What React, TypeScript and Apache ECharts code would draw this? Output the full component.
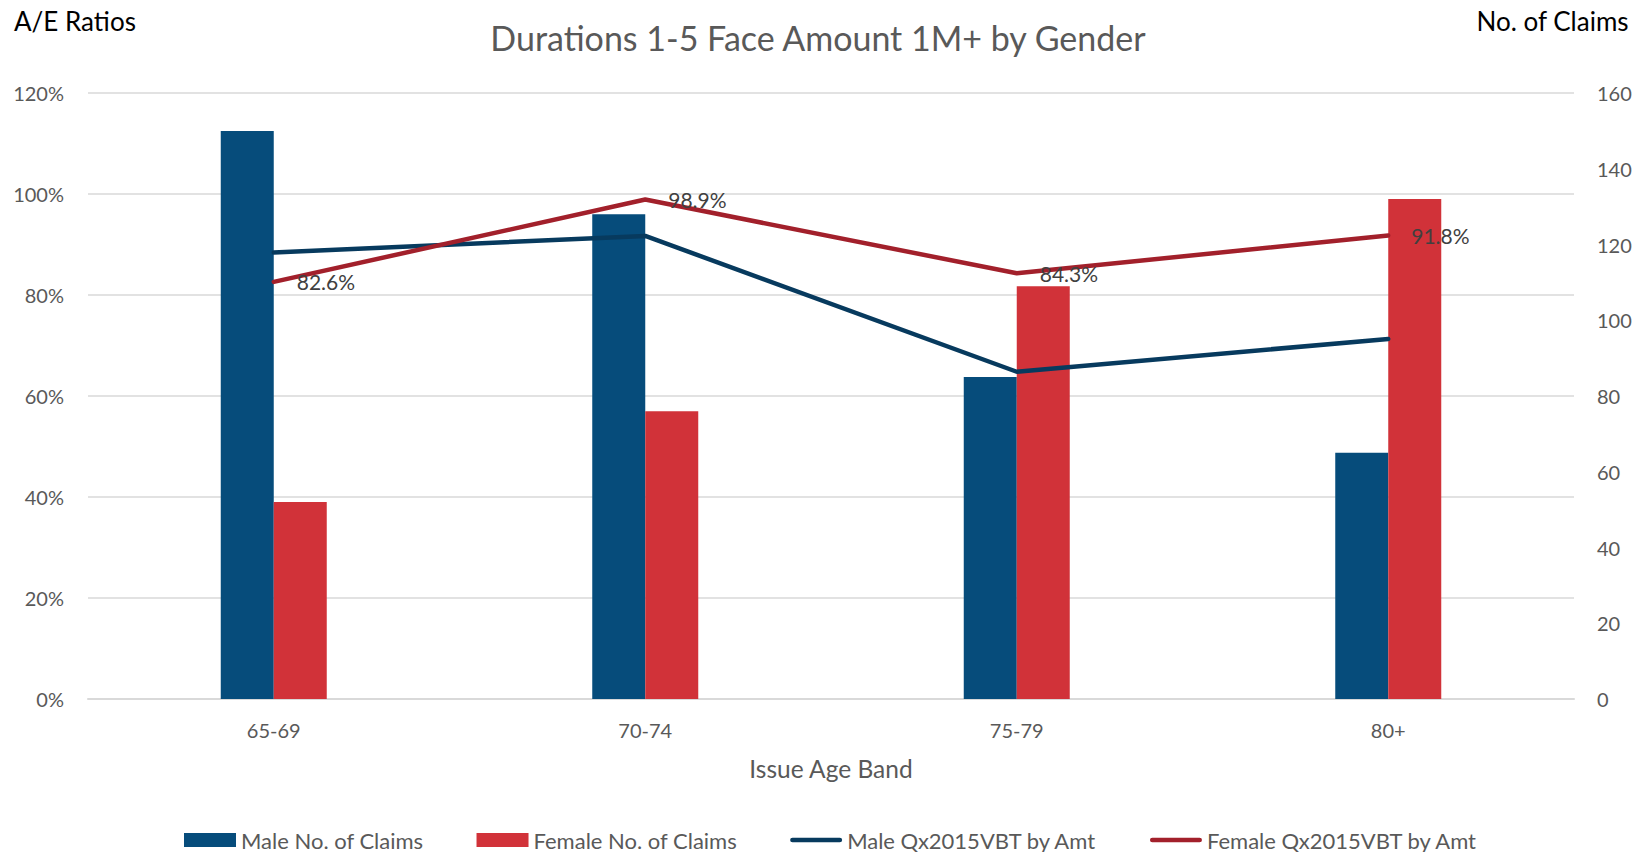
import React, { useEffect, useRef } from "react";
import * as echarts from "echarts";

const categories = ["65-69", "70-74", "75-79", "80+"];
const maleClaims = [150, 128, 85, 65];
const femaleClaims = [52, 76, 109, 132];
const maleAE = [88.4, 91.7, 64.8, 71.3];
const femaleAE = [82.6, 98.9, 84.3, 91.8];
const seriesNames = [
  "Male No. of Claims",
  "Female No. of Claims",
  "Male Qx2015VBT by Amt",
  "Female Qx2015VBT by Amt",
];

const FONT = "Lato, 'Noto Sans', sans-serif";
const lineIcon =
  "path://M2.5,0 H52.5 A2.5,2.5 0 0 1 52.5,5 H2.5 A2.5,2.5 0 0 1 2.5,0 Z";

export default function App() {
  const ref = useRef<HTMLDivElement>(null);
  useEffect(() => {
    if (!ref.current) return;
    const chart = echarts.init(ref.current, undefined, { renderer: "svg" });
    chart.setOption({
      animation: false,
      backgroundColor: "#ffffff",
      textStyle: { fontFamily: FONT },
      title: {
        text: "Durations 1-5 Face Amount 1M+ by Gender",
        left: "center",
        top: 15,
        textStyle: { fontFamily: FONT, fontSize: 34, fontWeight: "normal", color: "#595959" },
      },
      graphic: [
        {
          type: "text",
          left: 14,
          top: 8,
          style: { text: "A/E Ratios", fontFamily: FONT, fontSize: 26, fill: "#000000" },
        },
        {
          type: "text",
          right: 7,
          top: 8,
          style: { text: "No. of Claims", fontFamily: FONT, fontSize: 26, fill: "#000000" },
        },
      ],
      legend: {
        left: 184,
        top: 829,
        padding: 0,
        itemWidth: 52,
        itemHeight: 14,
        itemGap: 53,
        textStyle: { fontFamily: FONT, fontSize: 22, lineHeight: 22, color: "#595959" },
        data: [
          { name: seriesNames[0], icon: "rect" },
          { name: seriesNames[1], icon: "rect" },
          { name: seriesNames[2], icon: lineIcon },
          { name: seriesNames[3], icon: lineIcon },
        ],
      },
      grid: { left: 88, right: 62, top: 93, bottom: 153, containLabel: false },
      xAxis: {
        type: "category",
        data: categories,
        boundaryGap: true,
        axisTick: { show: false },
        axisLine: { lineStyle: { color: "#d9d9d9", width: 2 } },
        axisLabel: { color: "#595959", fontSize: 20, margin: 21, fontFamily: FONT },
        name: "Issue Age Band",
        nameLocation: "middle",
        nameGap: 57,
        nameTextStyle: { color: "#595959", fontSize: 24.5, fontFamily: FONT },
      },
      yAxis: [
        {
          type: "value",
          min: 0,
          max: 120,
          interval: 20,
          axisLabel: { formatter: "{value}%", color: "#595959", fontSize: 20, margin: 24, fontFamily: FONT },
          axisLine: { show: false },
          axisTick: { show: false },
          splitLine: { lineStyle: { color: "#d9d9d9", width: 1.5 } },
        },
        {
          type: "value",
          min: 0,
          max: 160,
          interval: 20,
          position: "right",
          axisLabel: { color: "#595959", fontSize: 20, margin: 23, fontFamily: FONT },
          axisLine: { show: false },
          axisTick: { show: false },
          splitLine: { show: false },
        },
      ],
      series: [
        {
          name: seriesNames[0],
          type: "bar",
          yAxisIndex: 1,
          data: maleClaims,
          barWidth: 53,
          barGap: "0%",
          itemStyle: { color: "#064c7b" },
        },
        {
          name: seriesNames[1],
          type: "bar",
          yAxisIndex: 1,
          data: femaleClaims,
          barWidth: 53,
          barGap: "0%",
          itemStyle: { color: "#d13239" },
        },
        {
          name: seriesNames[2],
          type: "line",
          yAxisIndex: 0,
          data: maleAE,
          symbol: "circle",
          symbolSize: 2,
          lineStyle: { color: "#073a5e", width: 4.5, cap: "round" },
          itemStyle: { color: "#073a5e" },
        },
        {
          name: seriesNames[3],
          type: "line",
          yAxisIndex: 0,
          data: femaleAE,
          symbol: "circle",
          symbolSize: 2,
          lineStyle: { color: "#a2202b", width: 4.5, cap: "round" },
          itemStyle: { color: "#a2202b" },
          label: {
            show: true,
            position: "right",
            distance: 22,
            formatter: (p: any) => Number(p.value).toFixed(1) + "%",
            color: "#404040",
            fontSize: 21,
            fontFamily: FONT,
          },
        },
      ],
    });
    return () => chart.dispose();
  }, []);
  return (
    <div
      ref={ref}
      style={{ position: "fixed", left: 0, top: 0, width: 1636, height: 852 }}
    />
  );
}
